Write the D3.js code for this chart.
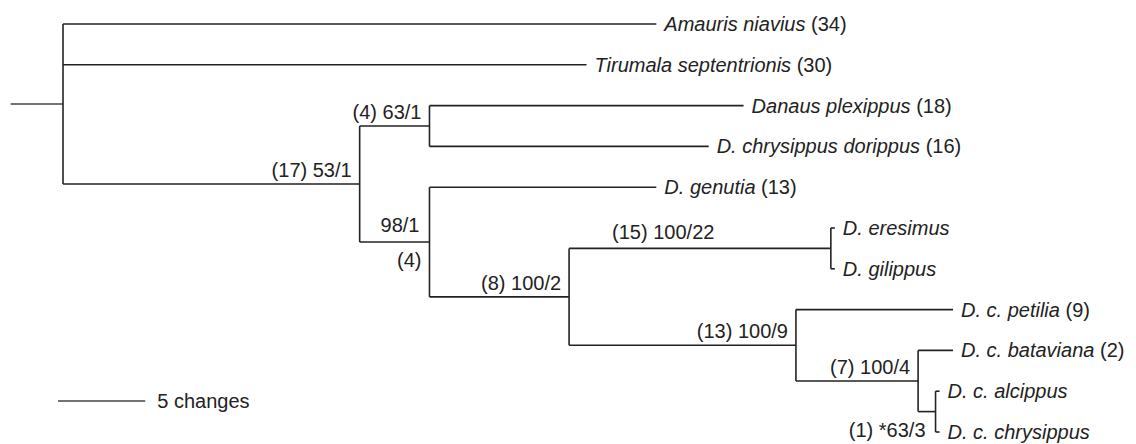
<!DOCTYPE html>
<meta charset="utf-8">
<style>
  body { margin: 0; background: #fff; }
  text { font-family: "Liberation Sans", Arial, sans-serif; font-size: 20px; fill: #222; }
  .branch { stroke: #222; stroke-width: 1.6; fill: none; }
</style>
<body>
<script src="https://d3js.org/d3.v7.min.js"></script>
<script>

// tree, as flat arrays (node id, parent id, branch length in changes, support label)
var nodeIds = ["root", "Amauris niavius", "Tirumala septentrionis", "n1", "n2",
  "Danaus plexippus", "D. chrysippus dorippus", "n3", "D. genutia", "n4", "n5",
  "D. eresimus", "D. gilippus", "n6", "D. c. petilia", "n7", "D. c. bataviana",
  "n8", "D. c. alcippus", "D. c. chrysippus"];
var parentIds = ["", "root", "root", "root", "n1",
  "n2", "n2", "n1", "n3", "n3", "n4",
  "n5", "n5", "n4", "n6", "n6", "n7",
  "n7", "n8", "n8"];
var branchLengths = [0, 34, 30, 17, 4,
  18, 16, 4, 13, 8, 15,
  0, 0, 13, 9, 7, 2,
  1, 0, 0];
var supportLabels = ["", "", "", "53/1", "63/1",
  "", "", "98/1", "", "100/2", "100/22",
  "", "", "100/9", "", "100/4", "",
  "*63/3", "", ""];
var rootStem = 3;
var scaleBarChanges = 5;

var width = 1136, height = 444;

var svg = d3.select("body").append("svg")
  .attr("width", width)
  .attr("height", height);

var rows = nodeIds.map(function (id, i) {
  return { id: id, parent: parentIds[i] || null, len: branchLengths[i], support: supportLabels[i] };
});

var root = d3.stratify()
  .id(function (d) { return d.id; })
  .parentId(function (d) { return d.parent; })(rows);

// cumulative distance from root
root.each(function (d) {
  d.dist = d.parent ? d.parent.dist + d.data.len : 0;
});

var x = d3.scaleLinear()
  .domain([0, d3.max(root.leaves(), function (d) { return d.dist; })])
  .range([63, 953]);

var y = d3.scalePoint()
  .domain(root.leaves().map(function (d) { return d.id; }))
  .range([24, 432]);

root.eachAfter(function (d) {
  if (d.children) d.y = (d.children[0].y + d.children[d.children.length - 1].y) / 2;
  else d.y = y(d.id);
});

// where a branch ends (zero-length ones get a small tick)
function endX(d) {
  return d.data.len === 0 ? x(d.parent.dist) + 4 : x(d.dist);
}

// root stem
svg.append("line").attr("class", "branch")
  .attr("x1", x(-rootStem)).attr("x2", x(0))
  .attr("y1", root.y).attr("y2", root.y)
  .style("stroke", "#444");

// horizontal branches
svg.selectAll(".h")
  .data(root.descendants().slice(1))
  .enter().append("line")
  .attr("class", "branch h")
  .attr("x1", function (d) { return x(d.parent.dist); })
  .attr("x2", endX)
  .attr("y1", function (d) { return d.y; })
  .attr("y2", function (d) { return d.y; });

// vertical connectors
svg.selectAll(".v")
  .data(root.descendants().filter(function (d) { return d.children; }))
  .enter().append("line")
  .attr("class", "branch v")
  .attr("x1", function (d) { return x(d.dist); })
  .attr("x2", function (d) { return x(d.dist); })
  .attr("y1", function (d) { return d.children[0].y; })
  .attr("y2", function (d) { return d.children[d.children.length - 1].y; });

// leaf labels
var leafText = svg.selectAll(".leaf")
  .data(root.leaves())
  .enter().append("text")
  .attr("class", "leaf")
  .attr("x", function (d) { return endX(d) + 8; })
  .attr("y", function (d) { return d.y; })
  .attr("dy", "0.35em");
leafText.append("tspan")
  .style("font-style", "italic")
  .text(function (d) { return d.id; });
leafText.append("tspan")
  .text(function (d) { return d.data.len > 0 ? " (" + d.data.len + ")" : ""; });

// internal node labels: "(length) bootstrap/decay"
var placement = { n3: "split", n5: "mid", n8: "below" };
root.descendants().filter(function (d) { return d.data.support; }).forEach(function (d) {
  var nx = x(d.dist), pos = placement[d.id] || "above";
  var full = "(" + d.data.len + ") " + d.data.support;
  if (pos === "above") {
    svg.append("text").attr("x", nx - 8).attr("y", d.y - 7)
      .style("text-anchor", "end").text(full);
  } else if (pos === "split") {
    svg.append("text").attr("x", nx - 10).attr("y", d.y - 10)
      .style("text-anchor", "end").text(d.data.support);
    svg.append("text").attr("x", nx - 8).attr("y", d.y + 25)
      .style("text-anchor", "end").text("(" + d.data.len + ")");
  } else if (pos === "below") {
    svg.append("text").attr("x", nx - 10).attr("y", d.y + 25)
      .style("text-anchor", "end").text(full);
  } else {
    svg.append("text").attr("x", x(d.parent.dist) + 43).attr("y", d.y - 9)
      .text(full);
  }
});

// scale bar
var barLen = x(scaleBarChanges) - x(0);
svg.append("line").attr("class", "branch")
  .attr("x1", 58).attr("x2", 58 + barLen)
  .attr("y1", 401).attr("y2", 401)
  .style("stroke", "#444");
svg.append("text")
  .attr("x", 58 + barLen + 12).attr("y", 401).attr("dy", "0.35em")
  .text(scaleBarChanges + " changes");

</script>
</body>
